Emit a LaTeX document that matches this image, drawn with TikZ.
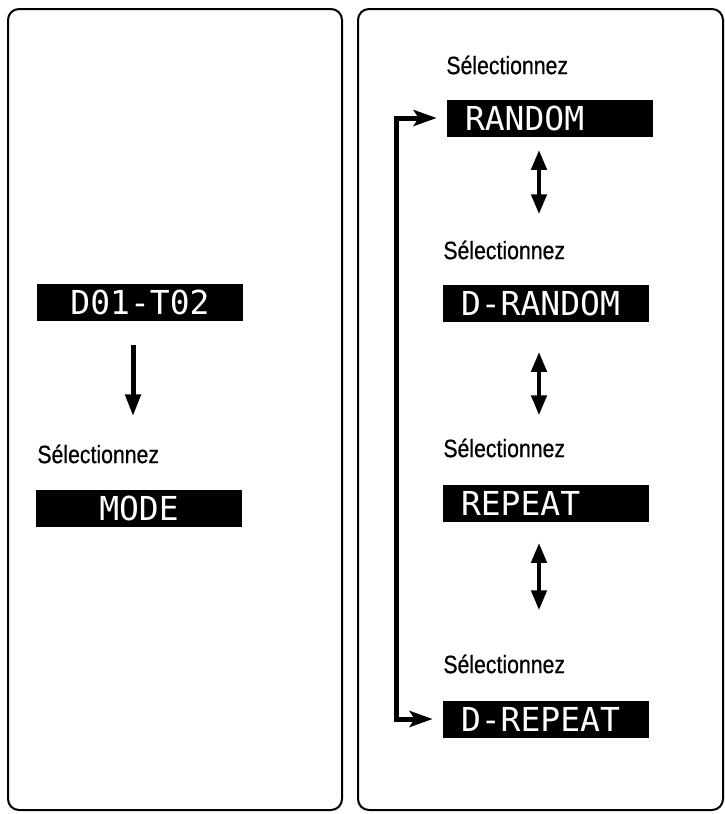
\documentclass[tikz,border=0pt]{standalone}
\usepackage{fontspec}
\setmainfont{Liberation Sans}
\newfontfamily\lcdfont{DejaVu Sans Mono}
\newfontfamily\promptfont[FakeStretch=0.85,FakeBold=0.6]{Liberation Sans}
\usetikzlibrary{arrows.meta,positioning,calc}
\tikzset{every picture/.style={line width=0.75pt}}
\tikzset{
    panel/.style={draw, line width=2pt, rounded corners=11pt},
    lcd/.style={fill=black, text=white, font=\lcdfont\fontsize{33pt}{36pt}\selectfont,
        minimum height=37pt, text width=170pt, inner xsep=18pt, inner ysep=0pt,
        text height=24pt, text depth=0pt},
    prompt/.style={anchor=west, inner sep=0pt, font=\promptfont\fontsize{25pt}{28pt}\selectfont},
    pointer/.style={-{Triangle[length=22pt,width=15pt]}, line width=5pt},
    toggle/.style={{Triangle[length=20pt,width=15pt]}-{Triangle[length=20pt,width=15pt]}, line width=4.5pt},
    wraparrow/.style={{Stealth[length=23pt,width=16pt,inset=5pt]}-{Stealth[length=23pt,width=16pt,inset=5pt]}, line width=5pt}
}

\begin{document}
\begin{tikzpicture}[x=1pt,y=-1pt]
    \useasboundingbox (0,0) rectangle (725,814);
    % panels
    \draw[panel] (8,9) rectangle (342,810);
    \draw[panel] (358,9) rectangle (723,810);

    % left panel
    \node[lcd, align=center] (track) at (140,302.5) {D01-T02};
    \node[prompt] (selmode) at (37,454) {Sélectionnez};
    \node[lcd, align=center] (mode) at (139,508) {MODE};
    \coordinate (leftaxis) at (133,0);
    \draw[pointer, shorten <=24pt, shorten >=28pt] (track.south -| leftaxis) -- (selmode.north -| leftaxis);

    % right panel
    \node[prompt] (sel1) at (446,65) {Sélectionnez};
    \node[lcd, align=left] (random) at (550,118) {RANDOM};
    \node[prompt] (sel2) at (443,250) {Sélectionnez};
    \node[lcd, align=left] (drandom) at (546,303) {D-RANDOM};
    \node[prompt] (sel3) at (443,448) {Sélectionnez};
    \node[lcd, align=left] (repeat) at (546,503) {REPEAT};
    \node[prompt] (sel4) at (443,664) {Sélectionnez};
    \node[lcd, align=left] (drepeat) at (546,719) {D-REPEAT};

    \coordinate (rightaxis) at (539,0);
    \draw[toggle, shorten <=13pt, shorten >=26pt] (random.south -| rightaxis) -- (sel2.north -| rightaxis);
    \draw[toggle, shorten <=30pt, shorten >=23pt] (drandom.south -| rightaxis) -- (sel3.north -| rightaxis);
    \draw[toggle, shorten <=21pt, shorten >=44pt] (repeat.south -| rightaxis) -- (sel4.north -| rightaxis);

    % loop back
    \coordinate (loopx) at (396,0);
    \draw[wraparrow, shorten <=10pt, shorten >=10pt] (random.west) -| (drepeat.west -| loopx) -- (drepeat.west);
\end{tikzpicture}
\end{document}
